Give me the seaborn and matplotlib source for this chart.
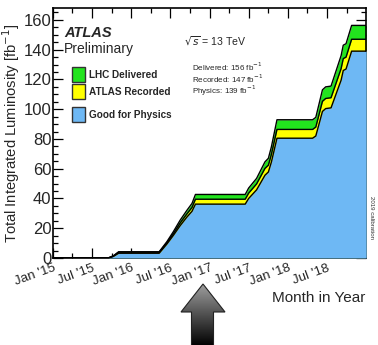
import numpy as np
import pandas as pd
import matplotlib
matplotlib.use("Agg")
import matplotlib.pyplot as plt
import matplotlib.dates as mdates
from matplotlib.patches import Polygon, Rectangle
from matplotlib.ticker import MultipleLocator
import seaborn as sns

# ---- data (cumulative integrated luminosity, fb^-1) ----
dates = ["2015-01-01", "2015-09-15", "2015-10-10", "2015-11-03",
         "2016-05-10", "2016-06-15", "2016-07-15", "2016-08-16", "2016-09-16",
         "2016-10-10", "2016-10-26",
         "2017-06-15", "2017-07-01", "2017-08-07", "2017-09-15", "2017-10-01",
         "2017-10-15", "2017-11-10",
         "2018-04-25", "2018-05-10", "2018-06-10", "2018-06-25", "2018-07-20",
         "2018-09-05", "2018-09-15", "2018-09-28", "2018-10-24", "2018-12-31"]
delivered = [0, 0, 1.5, 4.2,
             4.2, 11.0, 17.7, 25.5, 32.0, 36.7, 42.7,
             42.7, 47.0, 53.5, 64.6, 67.0, 74.7, 92.9,
             92.9, 94.5, 113.0, 115.0, 115.5, 136.0, 143.0, 144.0, 156.3, 156.3]
recorded = [0, 0, 1.4, 3.9,
            3.9, 10.3, 16.4, 23.6, 29.6, 34.0, 39.5,
            39.5, 43.6, 49.8, 60.2, 62.4, 69.6, 86.4,
            86.4, 88.0, 105.3, 107.2, 107.7, 127.3, 134.0, 135.0, 147.0, 147.0]
physics = [0, 0, 1.1, 3.2,
           3.2, 9.4, 15.2, 21.8, 27.5, 31.4, 36.2,
           36.2, 40.0, 45.8, 55.6, 57.8, 64.5, 80.5,
           80.5, 82.0, 98.5, 100.4, 100.9, 119.5, 126.0, 127.0, 139.0, 139.0]
series_names = ["LHC Delivered", "ATLAS Recorded", "Good for Physics"]
summary_labels = ["Delivered: 156 fb$^{-1}$", "Recorded: 147 fb$^{-1}$",
                  "Physics: 139 fb$^{-1}$"]
ytick_values = [0, 20, 40, 60, 80, 100, 120, 140, 160]

df = pd.DataFrame({"date": pd.to_datetime(dates), "delivered": delivered,
                   "recorded": recorded, "physics": physics})

sns.set_theme(style="ticks")
plt.rcParams["font.family"] = ["Liberation Sans", "DejaVu Sans"]

W, H = 378, 345
fig = plt.figure(figsize=(W / 100, H / 100), dpi=100)
ax = fig.add_axes([53 / W, 1 - 258 / H, (366 - 53) / W, (258 - 8) / H])

c_green = "#22E41E"
c_yellow = "#FFFF00"
c_blue = "#6EB8F4"

ax.fill_between(df["date"], 0, df["delivered"], color=c_green, lw=0, zorder=1)
ax.fill_between(df["date"], 0, df["recorded"], color=c_yellow, lw=0, zorder=2)
ax.fill_between(df["date"], 0, df["physics"], color=c_blue, lw=0, zorder=3)
for col in ["delivered", "recorded", "physics"]:
    sns.lineplot(data=df, x="date", y=col, ax=ax, color="black", lw=1.0,
                 zorder=4, legend=False)

ax.set_xlim(pd.Timestamp("2015-01-01"), pd.Timestamp("2018-12-30"))
ax.set_ylim(0, 168)
ax.set_yticks(ytick_values)
ax.yaxis.set_minor_locator(MultipleLocator(5))
ax.xaxis.set_major_locator(mdates.MonthLocator(bymonth=[1, 7]))
ax.xaxis.set_minor_locator(mdates.MonthLocator(bymonth=[4, 10]))
ax.xaxis.set_major_formatter(mdates.DateFormatter("%b '%y"))
ax.tick_params(which="both", direction="in", top=True, right=True, width=0.9,
               color="black")
ax.tick_params(which="major", length=7)
ax.tick_params(which="minor", length=3.5)
ax.tick_params(axis="y", labelsize=12, pad=1)
ax.tick_params(axis="x", labelsize=9.6, pad=3)
for lab in ax.get_xticklabels():
    lab.set_rotation(20)
    lab.set_ha("right")
    lab.set_rotation_mode("anchor")
for sp in ax.spines.values():
    sp.set_linewidth(1.2)
    sp.set_color("black")
ax.set_xlabel("")
ax.set_ylabel("Total Integrated Luminosity [fb$^{-1}$]", fontsize=10.6,
              labelpad=1)

fig.text(365 / W, 1 - 298 / H, "Month in Year", fontsize=11, ha="right",
         va="center")

ax.text(0.035, 0.9, "ATLAS", transform=ax.transAxes, fontsize=10.5,
        fontweight="bold", fontstyle="italic", va="center")
ax.text(0.035, 0.838, "Preliminary", transform=ax.transAxes, fontsize=10,
        va="center")

# legend boxes
colors = [c_green, c_yellow, c_blue]
ys = [75, 92, 115]
for name, colr, yp in zip(series_names, colors, ys):
    fig.patches.append(Rectangle((72 / W, 1 - (yp + 7) / H), 13 / W, 15 / H,
                                 transform=fig.transFigure, facecolor=colr,
                                 edgecolor="#333333", lw=1.0, zorder=5))
    fig.text(89 / W, 1 - yp / H, name, fontsize=7.2, fontweight="bold",
             va="center", ha="left")

fig.text(184 / W, 1 - 41 / H, r"$\sqrt{s}$ = 13 TeV", fontsize=7.6,
         va="center", ha="left", math_fontfamily="dejavusans")
for i, s in enumerate(summary_labels):
    fig.text(192 / W, 1 - (67 + 12 * i) / H, s, fontsize=5.8, va="center",
             ha="left")
fig.text(372 / W, 1 - 218 / H, "2019 calibration", fontsize=4.4,
         rotation=-90, va="center", ha="center", color="#333333")

# arrow (decoration)
ax2 = fig.add_axes([0, 0, 1, 1], zorder=-1)
ax2.set_xlim(0, W)
ax2.set_ylim(H, 0)
ax2.axis("off")
pts = [(203, 284), (225, 312), (213.5, 312), (213.5, 346), (191.5, 346),
       (191.5, 312), (181, 312)]
poly = Polygon(pts, closed=True, facecolor="none", edgecolor="#222222", lw=0.8)
ax2.add_patch(poly)
grad = np.linspace(0.62, 0.0, 256).reshape(-1, 1)
im = ax2.imshow(grad, cmap="gray", vmin=0, vmax=1, aspect="auto",
                extent=[181, 225, 346, 284], origin="upper")
im.set_clip_path(poly)

fig.savefig("out.png", dpi=100)
